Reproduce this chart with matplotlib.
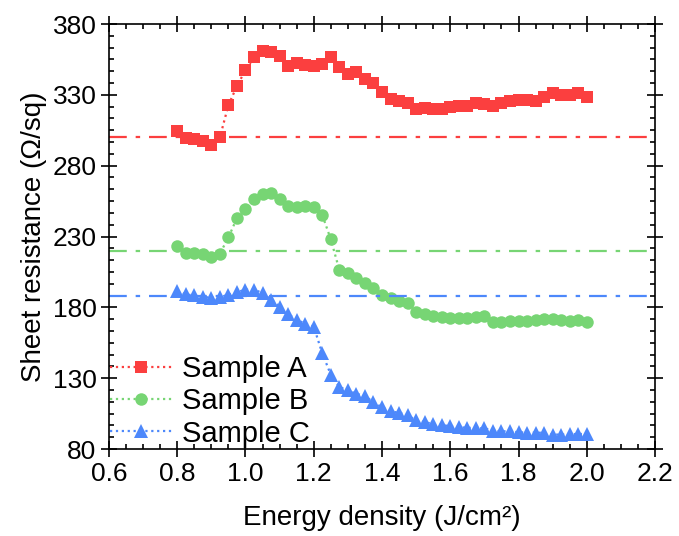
import matplotlib
matplotlib.use("Agg")
import matplotlib.pyplot as plt
import numpy as np
from matplotlib.ticker import MultipleLocator, FormatStrFormatter

plt.rcParams["font.family"] = ["Liberation Sans", "DejaVu Sans"]

# energy density, 0.8 .. 2.0 J/cm2 in 0.025 steps
energy = np.round(np.arange(0.8, 2.0001, 0.025), 3)

sample_a = [304.5, 299.3, 298.6, 297.6, 294.6, 300.0, 322.8, 336.2, 347.5, 356.5,
            361.0, 360.5, 357.4, 350.4, 352.2, 350.8, 350.6, 351.5, 357.0, 349.9,
            344.7, 345.9, 341.2, 338.2, 332.0, 327.3, 325.9, 324.0, 320.0, 320.9,
            320.2, 319.8, 321.2, 322.1, 322.3, 324.0, 323.8, 322.3, 324.5, 325.4,
            326.1, 326.6, 325.6, 328.7, 331.5, 329.7, 329.9, 331.1, 328.3]
sample_b = [223.1, 218.6, 218.4, 217.6, 215.5, 217.9, 229.4, 243.0, 249.4, 256.2,
            260.0, 260.5, 256.2, 251.5, 250.6, 251.5, 250.6, 245.2, 228.0, 206.4,
            204.5, 201.0, 197.5, 194.0, 188.7, 186.4, 184.5, 182.8, 176.5, 175.1,
            173.9, 173.2, 172.7, 172.5, 172.3, 173.0, 173.9, 169.9, 169.9, 170.4,
            170.4, 170.6, 171.1, 171.8, 171.6, 171.1, 170.4, 171.1, 169.6]
sample_c = [191.5, 189.1, 188.4, 187.6, 186.6, 187.2, 188.9, 190.7, 192.5, 192.5,
            190.1, 185.4, 180.5, 175.1, 171.3, 168.4, 166.4, 147.5, 132.5, 123.8,
            121.4, 119.0, 117.4, 113.0, 109.4, 106.6, 105.6, 103.8, 100.2, 99.0,
            97.6, 96.9, 96.1, 95.4, 95.0, 94.8, 94.7, 92.9, 92.5, 92.5,
            91.8, 91.6, 91.6, 91.4, 90.2, 90.2, 90.5, 90.6, 90.6]

# as-deposited reference levels
ref_levels = [300, 220, 188]

labels = ["Sample A", "Sample B", "Sample C"]
colors = ["#fb3f3f", "#77d574", "#4d88fb"]
markers = ["s", "o", "^"]
marker_sizes = [8.0, 9.0, 10.0]

fig = plt.figure(figsize=(6.79, 5.36), dpi=100)
ax = fig.add_axes([0.1605, 0.1623, 0.8042, 0.7929])

for ys, ref, lab, col, mk, ms in zip([sample_a, sample_b, sample_c], ref_levels, labels,
                                     colors, markers, marker_sizes):
    ax.axhline(ref, color=col, linestyle=(0, (8, 4, 2, 4)), linewidth=1.6)
    ax.plot(energy, ys, linestyle=":", linewidth=1.6, color=col, marker=mk,
            markersize=ms, markeredgewidth=0, label=lab)

ax.set_xlim(0.6, 2.2)
ax.set_ylim(80, 380)
ax.xaxis.set_major_locator(MultipleLocator(0.2))
ax.xaxis.set_minor_locator(MultipleLocator(0.05))
ax.yaxis.set_major_locator(MultipleLocator(50, offset=30))
ax.yaxis.set_minor_locator(MultipleLocator(50 / 6, offset=30))
ax.tick_params(which="major", direction="inout", length=11, width=1.2, labelsize=19,
               top=True, right=True)
ax.tick_params(which="minor", direction="in", length=3.6, width=1.2, top=True, right=True)
ax.xaxis.set_major_formatter(FormatStrFormatter("%.1f"))
for s in ax.spines.values():
    s.set_linewidth(1.2)

ax.set_xlabel("Energy density (J/cm²)", fontsize=20, labelpad=14)
ax.set_ylabel("Sheet resistance (Ω/sq)", fontsize=20, labelpad=4)

ax.legend(loc="lower left", frameon=False, fontsize=21, handlelength=2.1,
          handletextpad=0.35, labelspacing=0.15, borderaxespad=0.0, borderpad=0.05,
          bbox_to_anchor=(0.0, 0.0))

fig.savefig("out.png", dpi=100)
